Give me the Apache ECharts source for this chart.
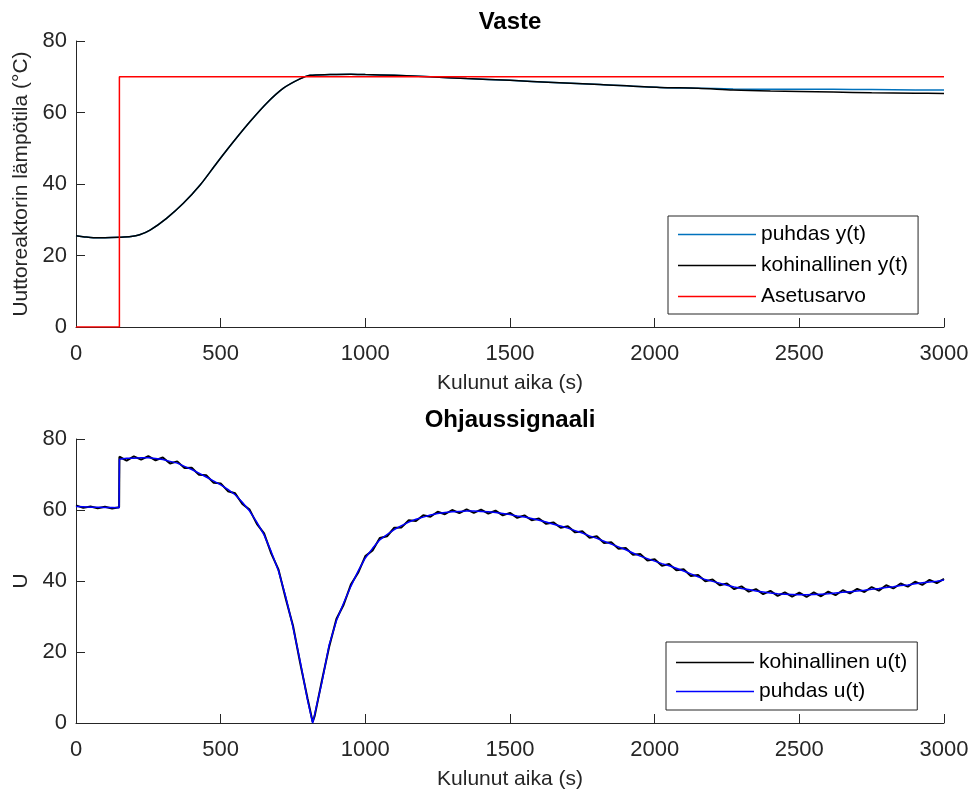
<!DOCTYPE html>
<html>
<head>
<meta charset="utf-8">
<script src="https://cdn.jsdelivr.net/npm/echarts@6/dist/echarts.min.js"></script>
<style>html,body{margin:0;padding:0;background:#fff}#c{width:976px;height:791px}</style>
</head>
<body>
<div id="c"></div>
<script>
// ---- Data ----
const xTicks = [0, 500, 1000, 1500, 2000, 2500, 3000];
const yTicks = [0, 20, 40, 60, 80];

// Top plot: response
const tY = [0,30,60,100,150,190,220,256,313,371,429,486,544,601,659,717,774,809,878,950,1000,1100,1224,1350,1500,1650,1811,2018,2150,2271,2400,2500,2617,2750,2900,3000];
const yPuhdas = [25.5,25.2,25.0,25.0,25.1,25.3,25.8,27.1,30.4,34.6,39.7,45.8,51.8,57.4,62.6,66.8,69.4,70.4,70.6,70.7,70.6,70.4,70.0,69.5,69.0,68.4,67.8,67.0,66.8,66.6,66.5,66.5,66.5,66.4,66.3,66.3];
const yKohina = [25.5,25.2,25.0,25.0,25.1,25.3,25.8,27.1,30.4,34.6,39.7,45.8,51.8,57.4,62.6,66.8,69.4,70.4,70.6,70.7,70.6,70.4,70.0,69.5,69.0,68.4,67.8,67.0,66.8,66.3,66.0,65.9,65.7,65.5,65.4,65.3];
const tSet = [0,150,150,3000];
const setpoint = [0,0,70,70];

// Bottom plot: control signal
const tU = [0,25,50,75,100,125,149,
  150,175,200,225,250,275,300,325,350,375,400,425,450,475,500,525,550,575,600,625,650,675,700,725,750,775,800,
  818,
  825,850,875,900,925,950,975,1000,1025,1050,1075,1100,1125,1150,1175,1200,1225,1250,1275,1300,1325,1350,1375,1400,
  1425,1450,1475,1500,1525,1550,1575,1600,1625,1650,1675,1700,1725,1750,1775,1800,1825,1850,1875,1900,1925,1950,1975,2000,
  2025,2050,2075,2100,2125,2150,2175,2200,2225,2250,2275,2300,2325,2350,2375,2400,2425,2450,2475,2500,2525,2550,2575,2600,
  2625,2650,2675,2700,2725,2750,2775,2800,2825,2850,2875,2900,2925,2950,2975,3000];
const uPuhdas = [61.0,60.9,60.8,60.8,60.7,60.7,60.6,
  74.3,74.6,74.6,74.7,74.7,74.5,74.2,73.7,73.2,72.3,71.4,70.4,69.3,68.2,67.1,65.8,64.3,62.2,59.7,56.6,53.0,48.2,42.8,35.5,27.0,17.3,6.6,
  0.0,
  2.5,11.5,22.0,28.8,33.8,38.5,42.8,46.5,49.2,51.6,53.1,54.5,55.6,56.6,57.4,58.0,58.6,59.0,59.3,59.5,59.6,59.7,59.7,59.6,
  59.5,59.3,59.0,58.7,58.3,58.0,57.6,57.1,56.6,56.0,55.5,54.9,54.2,53.5,52.7,52.0,51.2,50.4,49.6,48.8,47.9,47.0,46.3,45.6,
  44.9,44.3,43.6,42.8,42.0,41.2,40.4,39.9,39.4,38.8,38.3,37.9,37.6,37.2,36.9,36.6,36.4,36.3,36.2,36.1,36.1,36.2,36.3,36.4,
  36.6,36.8,37.0,37.2,37.4,37.7,37.9,38.2,38.4,38.7,38.9,39.2,39.5,39.7,39.9,40.3];
const uKohina = [61.3,60.6,61.0,60.5,60.9,60.4,60.8,
  75.0,73.9,75.1,74.2,75.2,74.0,74.8,73.1,73.7,71.8,71.9,69.9,69.8,67.7,67.5,65.3,64.7,61.7,60.1,56.1,53.4,47.7,43.2,35.0,27.4,16.8,7.0,
  0.3,
  2.0,12.0,21.5,29.3,33.3,39.0,42.3,47.0,48.6,52.1,52.6,55.0,55.1,57.1,56.9,58.5,58.1,59.5,58.8,60.0,59.1,60.2,59.2,60.1,
  59.0,59.8,58.5,59.2,57.8,58.5,57.1,57.6,56.1,56.5,55.0,55.4,53.7,54.0,52.2,52.6,50.7,50.9,49.1,49.3,47.4,47.6,45.8,46.1,
  44.3,44.8,43.0,43.3,41.4,41.7,39.9,40.4,38.8,39.3,37.7,38.5,37.0,37.7,36.3,37.2,35.8,36.8,35.6,36.7,35.5,36.8,35.7,37.0,
  36.0,37.4,36.5,37.8,36.9,38.3,37.3,38.8,37.9,39.3,38.4,39.8,38.9,40.3,39.4,40.6];

const pairs = (t, v) => t.map((x, i) => [x, v[i]]);

const FONT = 'Liberation Sans';
const AX = '#262626';

function xAxisDef(gridIndex) {
  return {
    type: 'value', gridIndex: gridIndex,
    min: xTicks[0], max: xTicks[xTicks.length - 1], interval: xTicks[1] - xTicks[0],
    name: 'Kulunut aika (s)', nameLocation: 'middle', nameGap: 46,
    nameTextStyle: { fontSize: 21, color: AX, fontFamily: FONT },
    axisLine: { show: true, lineStyle: { color: AX, width: 1 } },
    axisTick: { show: true, inside: true, length: 9, lineStyle: { color: AX, width: 1 } },
    axisLabel: { fontSize: 22, color: AX, fontFamily: FONT, margin: 16, formatter: v => String(v) },
    splitLine: { show: false }
  };
}
function yAxisDef(gridIndex, name) {
  return {
    type: 'value', gridIndex: gridIndex,
    min: yTicks[0], max: yTicks[yTicks.length - 1], interval: yTicks[1] - yTicks[0],
    name: name, nameLocation: 'middle', nameGap: 34,
    nameTextStyle: { fontSize: 21, color: AX, fontFamily: FONT },
    axisLine: { show: true, lineStyle: { color: AX, width: 1 } },
    axisTick: { show: true, inside: true, length: 9, lineStyle: { color: AX, width: 1 } },
    axisLabel: { fontSize: 22, color: AX, fontFamily: FONT, margin: 9, formatter: v => String(v) },
    splitLine: { show: false }
  };
}

const legendCommon = {
  orient: 'vertical', icon: 'rect',
  itemWidth: 78, itemHeight: 1.5,
  borderColor: AX, borderWidth: 1, backgroundColor: '#fff',
  textStyle: { fontSize: 21, color: '#000', fontFamily: FONT, lineHeight: 20, height: 20 }
};

const chart = echarts.init(document.getElementById('c'), null, { renderer: 'canvas' });
chart.setOption({
  animation: false,
  backgroundColor: '#ffffff',
  title: [
    { text: 'Vaste', left: 510, top: 10, textAlign: 'center', padding: 0,
      textStyle: { fontSize: 24, fontWeight: 'bold', color: '#000', fontFamily: FONT } },
    { text: 'Ohjaussignaali', left: 510, top: 408, textAlign: 'center', padding: 0,
      textStyle: { fontSize: 24, fontWeight: 'bold', color: '#000', fontFamily: FONT } }
  ],
  grid: [
    { left: 76, right: 32, top: 41, height: 286 },
    { left: 76, right: 32, top: 439, height: 285 }
  ],
  xAxis: [xAxisDef(0), xAxisDef(1)],
  yAxis: [yAxisDef(0, 'Uuttoreaktorin lämpötila (°C)'), yAxisDef(1, 'U')],
  legend: [
    Object.assign({}, legendCommon, {
      data: ['puhdas y(t)', 'kohinallinen y(t)', 'Asetusarvo'],
      left: 668, top: 216, itemGap: 10, padding: [8, 10, 7, 10] }),
    Object.assign({}, legendCommon, {
      data: ['kohinallinen u(t)', 'puhdas u(t)'],
      left: 666, top: 642, itemGap: 8, padding: [10, 10, 8, 10] })
  ],
  series: [
    { name: 'puhdas y(t)', type: 'line', xAxisIndex: 0, yAxisIndex: 0, data: pairs(tY, yPuhdas),
      showSymbol: false, symbol: 'none', smooth: 0.3, lineStyle: { color: '#0072BD', width: 1.5 }, itemStyle: { color: '#0072BD' } },
    { name: 'kohinallinen y(t)', type: 'line', xAxisIndex: 0, yAxisIndex: 0, data: pairs(tY, yKohina),
      showSymbol: false, symbol: 'none', smooth: 0.3, lineStyle: { color: '#000000', width: 1.5 }, itemStyle: { color: '#000000' } },
    { name: 'Asetusarvo', type: 'line', xAxisIndex: 0, yAxisIndex: 0, data: pairs(tSet, setpoint),
      showSymbol: false, symbol: 'none', lineStyle: { color: '#FF0000', width: 1.5 }, itemStyle: { color: '#FF0000' } },
    { name: 'kohinallinen u(t)', type: 'line', xAxisIndex: 1, yAxisIndex: 1, data: pairs(tU, uKohina),
      showSymbol: false, symbol: 'none', lineStyle: { color: '#000000', width: 2 }, itemStyle: { color: '#000000' } },
    { name: 'puhdas u(t)', type: 'line', xAxisIndex: 1, yAxisIndex: 1, data: pairs(tU, uPuhdas),
      showSymbol: false, symbol: 'none', lineStyle: { color: '#0000FF', width: 1.5 }, itemStyle: { color: '#0000FF' } }
  ]
});
</script>
</body>
</html>
